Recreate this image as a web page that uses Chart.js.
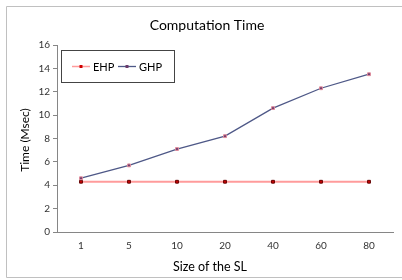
<!DOCTYPE html>
<html><head><meta charset="utf-8">
<script src="https://cdn.jsdelivr.net/npm/chart.js@4/dist/chart.umd.min.js"></script>
<style>html,body{margin:0;padding:0;background:#fff}#wrap{width:402px;height:280px}</style>
</head><body><div id="wrap"><canvas id="c" width="402" height="280"></canvas></div>
<script>
const categories = ['1','5','10','20','40','60','80'];
const ehpValues = [4.3, 4.3, 4.3, 4.3, 4.3, 4.3, 4.3];
const ghpValues = [4.6, 5.7, 7.1, 8.2, 10.6, 12.3, 13.5];
const yTicks = [0, 2, 4, 6, 8, 10, 12, 14, 16];
const seriesNames = ['EHP', 'GHP'];
const chartTitle = 'Computation Time';
const xTitle = 'Size of the SL';
const yTitle = 'Time (Msec)';

const FONT = 'Lato, "Open Sans", sans-serif';

const framePlugin = {
  id: 'frame',
  beforeDraw(chart) {
    const ctx = chart.ctx;
    ctx.save();
    ctx.fillStyle = '#fff';
    ctx.fillRect(0, 0, chart.width, chart.height);
    ctx.strokeStyle = '#c0c0c0';
    ctx.lineWidth = 1;
    ctx.beginPath();
    ctx.moveTo(chart.width, 6.5);
    ctx.lineTo(6.5, 6.5);
    ctx.lineTo(6.5, 277.5);
    ctx.lineTo(chart.width, 277.5);
    ctx.stroke();
    ctx.restore();
  }
};

const legendBoxPlugin = {
  id: 'legendBox',
  afterDraw(chart) {
    const ctx = chart.ctx;
    const a = chart.chartArea;
    const x0 = a.left + 4, y0 = a.top + 5, w = 113, h = 32;
    ctx.save();
    ctx.strokeStyle = '#444';
    ctx.lineWidth = 1;
    ctx.strokeRect(Math.round(x0) + 0.5, Math.round(y0) + 0.5, w, h);
    const cy = Math.round(y0 + h / 2) + 0.5;
    const items = chart.data.datasets.map((ds, i) => ({ds, x: Math.round(x0) + 11 + i * 46}));
    ctx.font = '11px ' + FONT;
    ctx.textBaseline = 'middle';
    items.forEach(({ds, x}) => {
      ctx.strokeStyle = ds.borderColor;
      ctx.lineWidth = Math.min(ds.borderWidth, 1.5);
      ctx.beginPath();
      ctx.moveTo(x, cy);
      ctx.lineTo(x + 18, cy);
      ctx.stroke();
      ctx.fillStyle = ds.pointBackgroundColor;
      ctx.fillRect(x + 7.5, cy - 1.5, 3, 3);
      ctx.fillStyle = '#000';
      ctx.fillText(ds.label, x + 21, cy + 0.5);
    });
    ctx.restore();
  }
};

const textPlugin = {
  id: 'titleText',
  afterDraw(chart) {
    const ctx = chart.ctx;
    ctx.save();
    ctx.fillStyle = '#000';
    ctx.textAlign = 'center';
    ctx.textBaseline = 'middle';
    ctx.font = '14px ' + FONT;
    ctx.fillText(chartTitle, 207, 25);
    ctx.font = '12.5px ' + FONT;
    ctx.fillText(xTitle, 210, 267);
    ctx.translate(25, 140);
    ctx.rotate(-Math.PI / 2);
    ctx.font = '12px ' + FONT;
    ctx.fillText(yTitle, 0, 0);
    ctx.restore();
  }
};

new Chart(document.getElementById('c'), {
  type: 'line',
  data: {
    labels: categories,
    datasets: [
      {
        label: seriesNames[0],
        data: ehpValues,
        borderColor: '#ff9b9b',
        borderWidth: 2,
        pointStyle: 'rect',
        pointRadius: 2,
        pointBackgroundColor: '#d00000',
        pointBorderColor: '#600000',
        pointBorderWidth: 1,
        tension: 0,
        order: 1
      },
      {
        label: seriesNames[1],
        data: ghpValues,
        borderColor: '#4e5887',
        borderWidth: 1.3,
        pointStyle: 'rect',
        pointRadius: 2,
        pointBackgroundColor: '#6a3a6a',
        pointBorderColor: '#e08a9a',
        pointBorderWidth: 1,
        tension: 0,
        order: 0
      }
    ]
  },
  options: {
    responsive: false,
    animation: false,
    devicePixelRatio: 1,
    layout: { padding: { top: 45, right: 9, left: 0, bottom: 0 } },
    plugins: {
      legend: { display: false },
      tooltip: { enabled: false },
      title: { display: false }
    },
    scales: {
      x: {
        type: 'category',
        offset: true,
        grid: { display: false, drawTicks: false },
        border: { display: true, color: '#868686', width: 1 },
        ticks: { color: '#333', font: { family: FONT, size: 10 }, padding: 8, maxRotation: 0 },
        title: { display: false },
        afterFit(scale) { scale.height = 48; }
      },
      y: {
        min: 0, max: 16,
        afterBuildTicks(scale) { scale.ticks = yTicks.map(v => ({value: v})); },
        grid: { display: true, drawOnChartArea: false, drawTicks: true, tickLength: 4, color: '#868686' },
        border: { display: true, color: '#868686', width: 1 },
        ticks: { color: '#333', font: { family: FONT, size: 10 }, padding: 3 },
        title: { display: false },
        afterFit(scale) { scale.width = 57; }
      }
    }
  },
  plugins: [framePlugin, legendBoxPlugin, textPlugin]
});
</script>
</body></html>
